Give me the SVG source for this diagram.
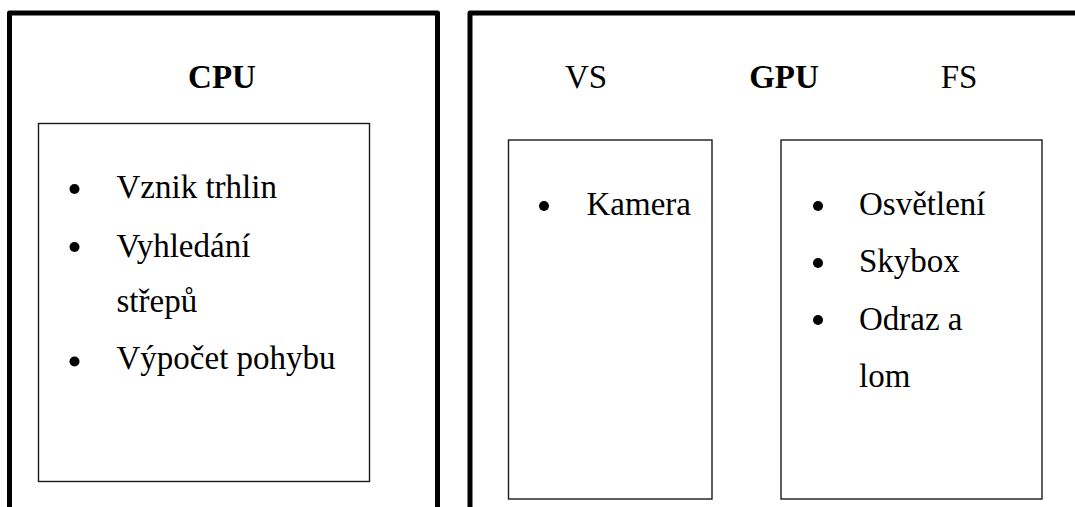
<svg xmlns="http://www.w3.org/2000/svg" width="1075" height="507" viewBox="0 0 1075 507">
<style>
.outer{fill:none;stroke:#000;stroke-width:5;stroke-linejoin:round}
.inner{fill:#fff;stroke:#1a1a1a;stroke-width:1.4}
.t{font-family:"Liberation Serif","DejaVu Serif",serif;font-size:33px;fill:#000}
.b{font-weight:bold}
.dot{fill:#000}
</style>
<rect width="1075" height="507" fill="#fff"/>
<g id="cpu">
<path class="outer" d="M9.5,515 V13 H437.5 V515"/>
<text class="t b" x="222" y="88" text-anchor="middle">CPU</text>
<rect class="inner" x="38.5" y="123.5" width="331" height="358"/>
<circle class="dot" cx="74.5" cy="189" r="5"/>
<text class="t" x="116.5" y="198">Vznik trhlin</text>
<circle class="dot" cx="74.5" cy="247" r="5"/>
<text class="t" x="116.5" y="256.5">Vyhledání</text>
<text class="t" x="116.5" y="312">střepů</text>
<circle class="dot" cx="74.5" cy="361.5" r="5"/>
<text class="t" x="116.5" y="369">Výpočet pohybu</text>
</g>
<g id="gpu">
<path class="outer" d="M470,515 V13 H1085"/>
<text class="t b" x="784" y="88" text-anchor="middle">GPU</text>
</g>
<g id="vs">
<text class="t" x="586" y="88" text-anchor="middle">VS</text>
<rect class="inner" x="508.5" y="140" width="203.5" height="359"/>
<circle class="dot" cx="544" cy="206" r="5"/>
<text class="t" x="586.5" y="215">Kamera</text>
</g>
<g id="fs">
<text class="t" x="959" y="88" text-anchor="middle">FS</text>
<rect class="inner" x="781" y="140" width="261" height="359"/>
<circle class="dot" cx="818" cy="206" r="5"/>
<text class="t" x="859" y="215">Osvětlení</text>
<circle class="dot" cx="818" cy="263" r="5"/>
<text class="t" x="859" y="272">Skybox</text>
<circle class="dot" cx="818" cy="320" r="5"/>
<text class="t" x="859" y="330">Odraz a</text>
<text class="t" x="859" y="387">lom</text>
</g>
<g id="connectors"></g>
</svg>
